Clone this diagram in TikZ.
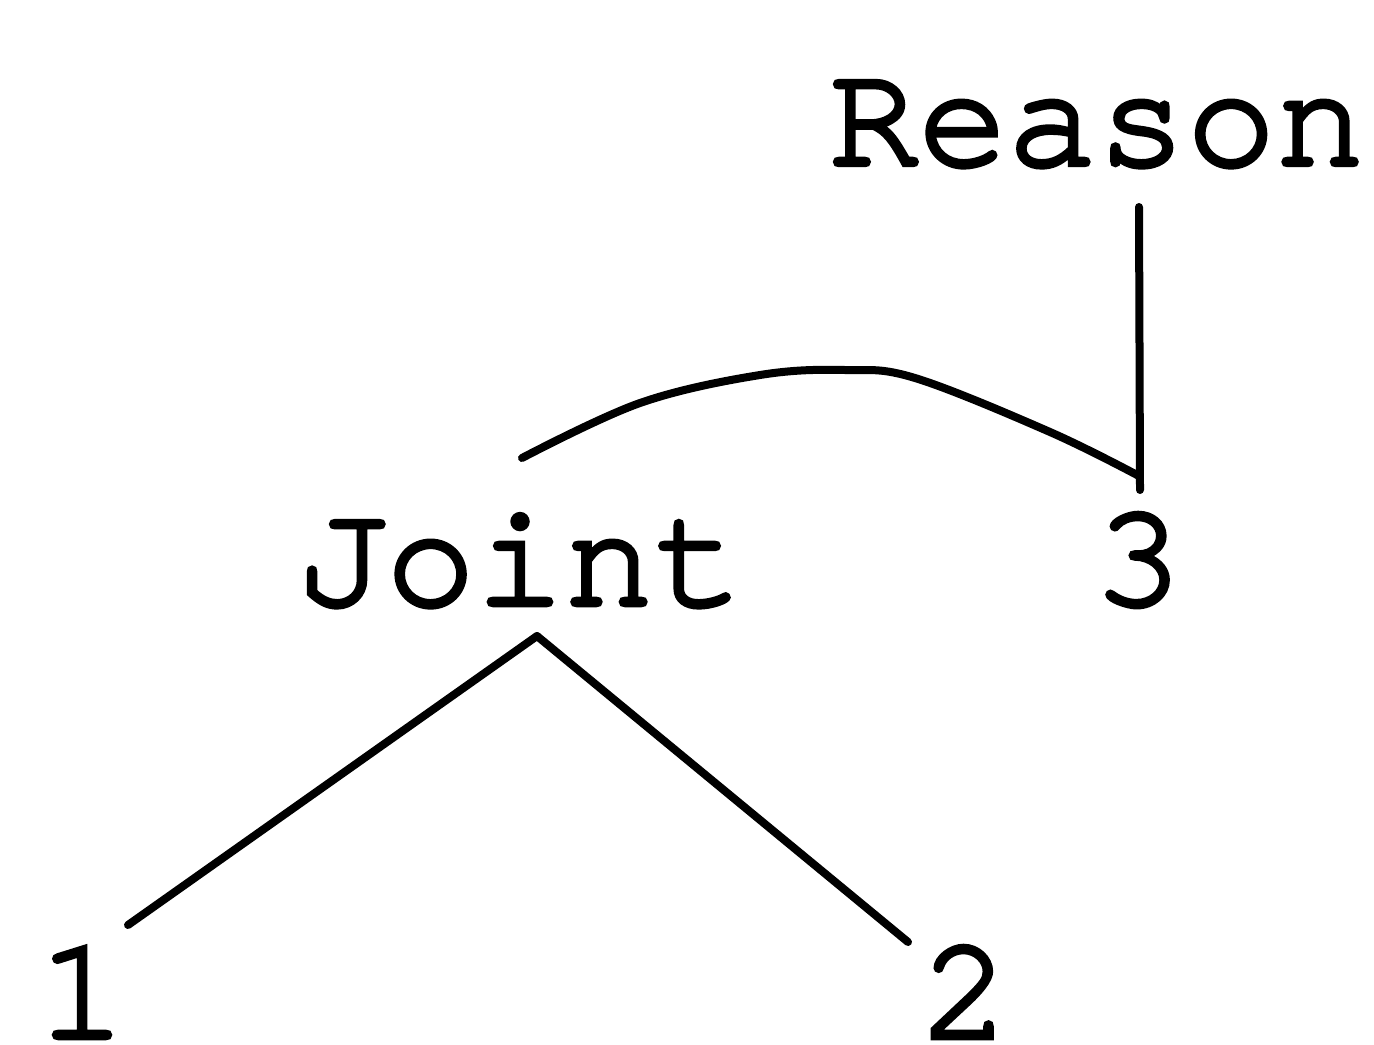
\documentclass[tikz,border=0pt]{standalone}
\usepackage{fontspec}
\newfontfamily\cursorfont[FakeBold=3]{texgyrecursor-regular.otf}
\begin{document}
\begin{tikzpicture}[x=0.5pt,y=-0.5pt,
  lbl/.style={font=\cursorfont\fontsize{74.5}{80}\selectfont, inner sep=0pt, anchor=base},
  edge/.style={line width=4pt, line cap=round, line join=round}]
\useasboundingbox (0,0) rectangle (1374,1044);
\node[lbl] (reason) at (1097,165) {Reason};
\node[lbl] (joint) at (520,605) {Joint};
\node[lbl] (three) at (1138,605) {3};
\node[lbl, text depth=0pt] (one) at (82,1038) {1};
\node[lbl, text depth=0pt] (two) at (965,1038) {2};
\coordinate (rtop) at (1139,207);
\coordinate (rbot) at (1140,490);
\coordinate (jtop) at (537,636);
\coordinate (cstart) at (522,458);
\coordinate (cend) at (1139,476);
\coordinate (oneTop) at (128,925);
\coordinate (twoTop) at (908,942);
\draw[edge] (rtop) -- (rbot);
\draw[edge] plot[smooth, tension=0.6] coordinates {(cstart) (640,403) (760,375) (845,370) (915,378) (1050,432) (cend)};
\draw[edge] (jtop) -- (oneTop);
\draw[edge] (jtop) -- (twoTop);
\end{tikzpicture}
\end{document}
